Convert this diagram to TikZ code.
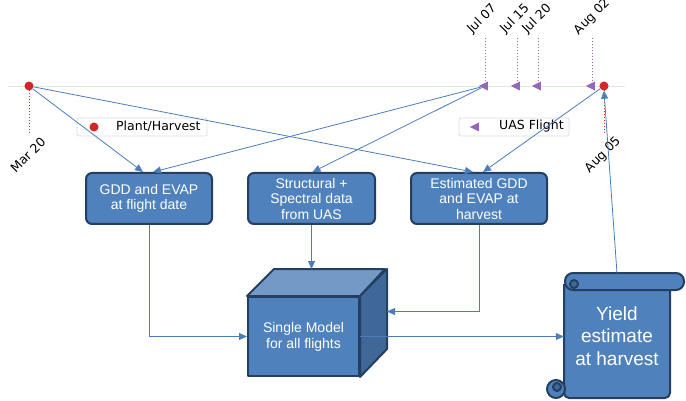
\documentclass[tikz,border=0pt]{standalone}
\usepackage{fontspec}
\setmainfont{Liberation Sans}
\newfontfamily\dvs{DejaVu Sans}
\usepackage{xcolor}
\usetikzlibrary{calc,arrows.meta,positioning,shapes.geometric}
\definecolor{boxc}{HTML}{4F81BD}
\definecolor{edgec}{HTML}{243F60}
\definecolor{linkc}{HTML}{4A7EBB}
\definecolor{topc}{HTML}{7399C6}
\definecolor{sidec}{HTML}{3F6797}
\definecolor{plantc}{HTML}{D62728}
\definecolor{flyc}{HTML}{9467BD}
\definecolor{linec}{HTML}{DCEBDA}
\definecolor{legc}{HTML}{DDDDDD}
\tikzset{
  ar/.style={-{Triangle[length=8pt,width=7pt]},line width=0.8pt,linkc},
  box/.style={draw=edgec,line width=2pt,rounded corners=6pt,fill=boxc,text=white,align=center,
    minimum height=51pt,inner sep=2pt,font=\fontsize{14}{15.5}\selectfont},
  face/.style={draw=edgec,line width=2pt,line join=round},
  pdot/.style={circle,fill=plantc,inner sep=0pt,minimum size=9pt},
  uas/.style={isosceles triangle,isosceles triangle stretches,shape border rotate=180,fill=flyc,
    inner sep=0pt,minimum height=9pt,minimum width=9pt},
  day/.style={rotate=45,font=\dvs\fontsize{12.5}{14}\selectfont,inner sep=1pt},
  leg/.style={draw=legc,fill=white,rounded corners=2pt,line width=0.8pt,minimum height=18pt},
  tick/.style={dotted,line width=1pt}
}

\begin{document}
\begin{tikzpicture}[x=1pt,y=-1pt]
\useasboundingbox (0,0) rectangle (686,401);
% timeline
\draw[linec,line width=0.8pt] (8,86) -- (625,86);
\draw[tick,plantc] (29,90) -- (29,133) (604,90) -- (604,133);
\foreach \x in {485,517,538,592} \draw[tick,flyc] (\x,38) -- (\x,82);
\node[day] (d1) at (28,155) {Mar 20};
\node[day] (d2) at (482,19) {Jul 07};
\node[day] (d3) at (515,19) {Jul 15};
\node[day] (d4) at (537,19) {Jul 20};
\node[day] (d5) at (592,17) {Aug 02};
\node[day] (d6) at (603,155) {Aug 05};
\node[leg,minimum width=130pt] (lg1) at (142,127) {};
\node[leg,minimum width=110pt] (lg2) at (514,127) {};
\node[pdot] (k1) at (94,127) {};
\node[uas] (k2) at (476,127) {};
\node[font=\dvs\fontsize{12.5}{14}\selectfont,anchor=west,inner sep=0pt] (t1) at (116,126) {Plant/Harvest};
\node[font=\dvs\fontsize{12.5}{14}\selectfont,anchor=west,inner sep=0pt] (t2) at (499,126) {UAS Flight};
\node[pdot] (pl) at (29,86) {};
\node[pdot] (hv) at (604,86) {};
\node[uas] (f1) at (485,86) {};
\node[uas] (f2) at (517,86) {};
\node[uas] (f3) at (538,86) {};
\node[uas] (f4) at (592,86) {};
% boxes
\node[box,minimum width=126pt] (gdd) at (149,198.5) {GDD and EVAP\\at flight date};
\node[box,minimum width=127pt] (uasd) at (311.5,198.5) {Structural +\\Spectral data\\from UAS};
\node[box,minimum width=136pt] (est) at (479,198.5) {Estimated GDD\\and EVAP at\\harvest};
% cube
\node[face,fill=boxc,minimum width=111pt,minimum height=79pt,text=white,align=center,
  font=\fontsize{14}{16}\selectfont] (model) at (303.5,336.5) {Single Model\\for all flights};
\draw[face,fill=topc] (model.north west) -- ++(27,-27) -- ++(111,0) -- (model.north east) -- cycle;
\draw[face,fill=sidec] (model.north east) -- ++(27,-27) -- ++(0,80) -- (model.south east) -- cycle;
\coordinate (mtop) at ($(model.north)+(27,-27)$);
\coordinate (mside) at ($(model.east)+(27,-25)$);
% scroll
\draw[face,fill=boxc,rounded corners=5pt] (564,284) -- (564,398) -- (670,398) -- (670,284);
\draw[face,fill=boxc,rounded corners=8pt] (565,273) rectangle (684,290);
\draw[face,fill=sidec] (574,284) circle (4);
\draw[face,fill=boxc] (556,389) circle (9);
\draw[face,fill=sidec] (557,387) circle (4);
\node[minimum width=106pt,minimum height=125pt,text=white,align=center,
  font=\fontsize{19}{22.5}\selectfont] (yield) at (617,336) {Yield\\estimate\\at harvest};
% links
\draw[ar] (pl) -- ([xshift=-6pt]gdd.north);
\draw[ar] (pl) -- ([xshift=-6pt]est.north);
\draw[ar] (f1) -- ([xshift=4pt]gdd.north);
\draw[ar] (f1) -- ([xshift=1pt]uasd.north);
\draw[ar] (hv) -- ([xshift=4pt]est.north);
\draw[ar] (gdd.south) |- (model.west);
\draw[ar] (uasd.south) -- (uasd.south |- mtop);
\draw[ar] (est.south) |- (mside);
\draw[ar] (model.east) -- (model.east -| yield.west);
\draw[ar] (yield.north) -- (hv.south);
\end{tikzpicture}
\end{document}
